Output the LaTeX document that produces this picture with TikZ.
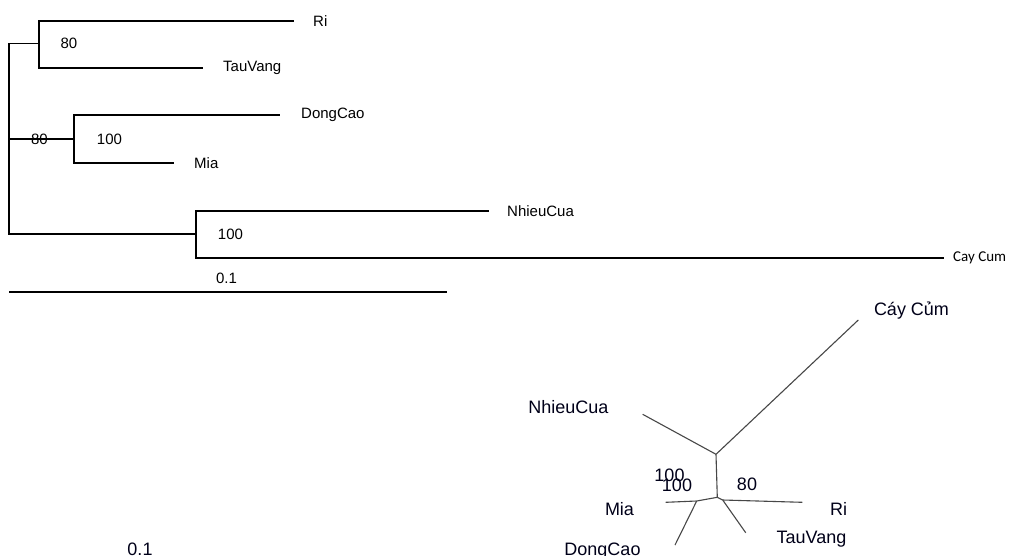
\documentclass[tikz,border=0pt]{standalone}
\usepackage{fontspec}
\setmainfont{Liberation Sans}
\newfontfamily\smallfam{Carlito}
\begin{document}
\begin{tikzpicture}[x=1pt,y=-1pt,
  branch/.style={line width=1.9pt,black,line join=miter,line cap=rect},
  ubranch/.style={line width=1.1pt,black!72},
  leaf/.style={anchor=west,inner sep=0pt,font=\fontsize{15}{18}\selectfont},
  boot/.style={inner sep=0pt,font=\fontsize{15}{18}\selectfont},
  uleaf/.style={inner sep=0pt,font=\fontsize{18}{21}\selectfont,text=black!90!blue},
  scalebar/.style={line width=1.2pt,black}]
\useasboundingbox (0,0) rectangle (1010,555);
\fill[white] (0,0) rectangle (1010,555);
\clip (0,0) rectangle (1010,555);
% ---------- rooted tree ----------
\coordinate (r1) at (9,43.5);
\coordinate (r2) at (9,139);
\coordinate (r3) at (9,234.3);
\coordinate (c1) at (39.3,43.5);
\coordinate (c1t) at (39.3,20.7);
\coordinate (c1b) at (39.3,67.7);
\coordinate (eRi) at (293,20.7);
\coordinate (eTau) at (202,67.7);
\coordinate (c2) at (74,139);
\coordinate (c2t) at (74,115);
\coordinate (c2b) at (74,162.7);
\coordinate (eDong) at (279,115);
\coordinate (eMia) at (173,162.7);
\coordinate (c3) at (195.7,234.3);
\coordinate (c3t) at (195.7,211);
\coordinate (c3b) at (195.7,257.7);
\coordinate (eNhieu) at (488,211);
\coordinate (eCay) at (943,257.7);
\draw[branch] (r1) -- (r3);
\draw[branch] (r1) -- (c1);
\draw[branch] (eRi) -- (c1t) -- (c1b) -- (eTau);
\draw[branch] (r2) -- (c2);
\draw[branch] (eDong) -- (c2t) -- (c2b) -- (eMia);
\draw[branch] (r3) -- (c3);
\draw[branch] (eNhieu) -- (c3t) -- (c3b) -- (eCay);
\node[leaf] (lRi) at (313,20.7) {Ri};
\node[leaf] (lTau) at (223,67.7) {TauVang};
\node[leaf] (lDong) at (301,115) {DongCao};
\node[leaf] (lMia) at (194,162.7) {Mia};
\node[leaf] (lNhieu) at (507,211) {NhieuCua};
\node[leaf,font=\smallfam\fontsize{15}{18}\selectfont] (lCay) at (953,257.7) {Cay Cum};
\node[boot] (b1) at (69,43.5) {80};
\node[boot] (b2) at (39.5,139) {80};
\node[boot] (b3) at (109.5,139) {100};
\node[boot] (b4) at (230.5,234) {100};
\coordinate (sb1) at (9,292);
\coordinate (sb2) at (447,292);
\draw[scalebar] (sb1) -- (sb2);
\node[boot] (sblabel) at (226.5,278) {0.1};
% ---------- unrooted tree ----------
\coordinate (n1) at (716,454.3);
\coordinate (n2) at (717.3,497.3);
\coordinate (nA) at (696.7,501);
\coordinate (nB) at (722.7,500);
\coordinate (uCay) at (858.3,320);
\coordinate (uNhieu) at (642.7,414.3);
\coordinate (uMia) at (665.7,502.3);
\coordinate (uDong) at (675,545);
\coordinate (uRi) at (802.3,502.3);
\coordinate (uTau) at (745.7,532.7);
\draw[ubranch] (n1) -- (uCay);
\draw[ubranch] (n1) -- (uNhieu);
\draw[ubranch] (n1) -- (n2);
\draw[ubranch] (n2) -- (nA);
\draw[ubranch] (n2) -- (nB);
\draw[ubranch] (nA) -- (uMia);
\draw[ubranch] (nA) -- (uDong);
\draw[ubranch] (nB) -- (uRi);
\draw[ubranch] (nB) -- (uTau);
\node[uleaf] (tCay) at (911.5,311) {Cáy Củm};
\node[uleaf] (tNhieu) at (568.5,407.5) {NhieuCua};
\node[uleaf] (tMia) at (619.5,509) {Mia};
\node[uleaf] (tRi) at (838.5,509) {Ri};
\node[uleaf] (tTau) at (811.5,539) {TauVang};
\node[uleaf] (tDong) at (602.5,551) {DongCao};
\node[uleaf] (ub1) at (669.5,475) {100};
\node[uleaf] (ub2) at (677,485) {100};
\node[uleaf] (ub3) at (747,484.5) {80};
\node[uleaf] (usb) at (140,549.5) {0.1};
\end{tikzpicture}
\end{document}
